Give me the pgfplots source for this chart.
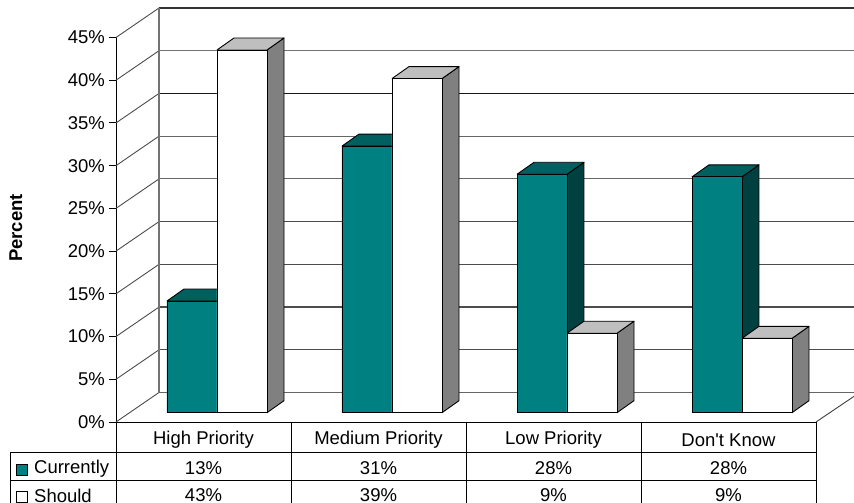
\documentclass[border=0pt]{standalone}
\usepackage{fontspec}
\setmainfont{Liberation Sans}
\usepackage{pgfplots}
\pgfplotsset{compat=1.18}
\definecolor{tealF}{HTML}{008080}
\definecolor{tealT}{HTML}{005F5F}
\definecolor{tealS}{HTML}{004040}
\definecolor{whF}{HTML}{FFFFFF}
\definecolor{whT}{HTML}{BFBFBF}
\definecolor{whS}{HTML}{808080}
\newcommand{\lab}{\fontsize{18.5}{20}\selectfont}
% x-left, x-right, drawn height, colour prefix
\newcommand{\threedbar}[4]{%
  \pgfmathsetmacro{\xa}{#1+0.0971}%
  \pgfmathsetmacro{\xb}{#2+0.0971}%
  \pgfmathsetmacro{\yb}{1.09}%
  \pgfmathsetmacro{\yc}{1.09+1.4045}%
  \pgfmathsetmacro{\yt}{1.09+#3}%
  \pgfmathsetmacro{\yu}{1.09+#3+1.4045}%
  \addplot[draw=black,line width=0.9pt,line join=round,fill=#4S] coordinates {(#2,\yb) (\xb,\yc) (\xb,\yu) (#2,\yt) (#2,\yb)};
  \addplot[draw=black,line width=0.9pt,line join=round,fill=#4T] coordinates {(#1,\yt) (\xa,\yu) (\xb,\yu) (#2,\yt) (#1,\yt)};
  \addplot[draw=black,line width=0.9pt,line join=round,fill=#4F] coordinates {(#1,\yb) (#2,\yb) (#2,\yt) (#1,\yt) (#1,\yb)};
}
\newcommand{\gridrow}[2]{%
  \pgfmathsetmacro{\yy}{#1+3.453}%
  \addplot[draw=black!#2,line width=1.1pt] coordinates {(0.2457,\yy) (4.217,\yy)};
  \addplot[draw=black!70,line width=0.9pt] coordinates {(0,#1) (0.2457,\yy)};
}
\begin{document}
\begin{tikzpicture}
\path[use as bounding box] (0,0) rectangle (854pt,503pt);
\begin{axis}[
  at={(116pt,81pt)}, anchor=south west,
  scale only axis, width=700pt, height=384.5pt,
  xmin=0, xmax=4, ymin=0, ymax=45,
  clip=false,
  axis x line=bottom, axis y line=left,
  axis line style={-, black, line width=0.9pt},
  xtick={0.5,1.5,2.5,3.5},
  xticklabels={High Priority,Medium Priority,Low Priority,Don\textquotesingle t Know},
  x tick style={draw=none},
  x tick label style={font=\lab, anchor=center, yshift=-11pt, inner sep=0pt},
  ytick={0,5,...,45},
  yticklabel={\pgfmathprintnumber{\tick}\%},
  y tick label style={font=\lab, /pgf/number format/assume math mode=true, inner sep=0pt, xshift=-4pt},
  tick align=outside, major tick length=7pt,
  y tick style={black, line width=0.9pt},
  tick pos=left,
  ylabel={Percent},
  ylabel style={font=\lab\bfseries, at={(axis description cs:-0.143,0.5045)}, anchor=center},
]
% walls
\gridrow{0}{60}\gridrow{5}{70}\gridrow{10}{70}\gridrow{15}{70}\gridrow{20}{70}
\gridrow{25}{60}\gridrow{30}{60}\gridrow{35}{90}\gridrow{40}{55}\gridrow{45}{80}
\addplot[draw=black!55,line width=1.4pt] coordinates {(0.2457,3.453) (0.2457,48.453)};
\addplot[draw=black!75,line width=0.9pt] coordinates {(4,0) (4.217,3.0)};
% bars
\threedbar{0.2914}{0.5771}{13.07}{teal}
\threedbar{0.5771}{0.8629}{42.45}{wh}
\threedbar{1.2914}{1.5771}{31.2}{teal}
\threedbar{1.5771}{1.8629}{39.1}{wh}
\threedbar{2.2914}{2.5771}{27.9}{teal}
\threedbar{2.5771}{2.8629}{9.3}{wh}
\threedbar{3.2914}{3.5771}{27.6}{teal}
\threedbar{3.5771}{3.8629}{8.7}{wh}
% data table rules
\addplot[draw=black,line width=0.9pt] coordinates {(-0.6017,-3.511) (4,-3.511)};
\addplot[draw=black,line width=0.9pt] coordinates {(-0.6017,-6.788) (4,-6.788)};
\addplot[draw=black,line width=0.9pt] coordinates {(-0.6017,-3.511) (-0.6017,-9.48)};
\addplot[draw=black,line width=0.9pt] coordinates {(0,0) (0,-9.48)};
\addplot[draw=black,line width=0.9pt] coordinates {(1,0) (1,-9.48)};
\addplot[draw=black,line width=0.9pt] coordinates {(2,0) (2,-9.48)};
\addplot[draw=black,line width=0.9pt] coordinates {(3,0) (3,-9.48)};
\addplot[draw=black,line width=0.9pt] coordinates {(4,0) (4,-9.48)};
% legend keys
\addplot[draw=black,line width=0.7pt,fill=tealF] coordinates {(-0.571,-4.98) (-0.509,-4.98) (-0.509,-6.3) (-0.571,-6.3) (-0.571,-4.98)};
\addplot[draw=black,line width=0.7pt,fill=white] coordinates {(-0.571,-8.1) (-0.509,-8.1) (-0.509,-9.4) (-0.571,-9.4) (-0.571,-8.1)};
\node[font=\lab,anchor=west,inner sep=0pt] at (axis cs:-0.4686,-5.44) {Currently};
\node[font=\lab,anchor=west,inner sep=0pt] at (axis cs:-0.4686,-8.6) {Should};
% table values
\node[font=\lab] at (axis cs:0.5,-5.44) {13\%};
\node[font=\lab] at (axis cs:1.5,-5.44) {31\%};
\node[font=\lab] at (axis cs:2.5,-5.44) {28\%};
\node[font=\lab] at (axis cs:3.5,-5.44) {28\%};
\node[font=\lab] at (axis cs:0.5,-8.6) {43\%};
\node[font=\lab] at (axis cs:1.5,-8.6) {39\%};
\node[font=\lab] at (axis cs:2.5,-8.6) {9\%};
\node[font=\lab] at (axis cs:3.5,-8.6) {9\%};
\end{axis}
\end{tikzpicture}
\end{document}
